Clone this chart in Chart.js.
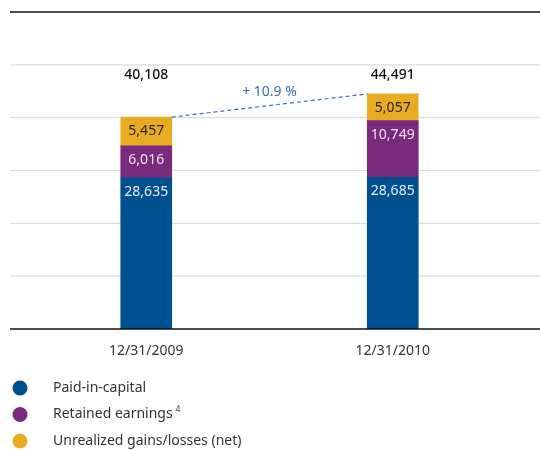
<!DOCTYPE html>
<html>
<head>
<meta charset="utf-8">
<script src="https://cdn.jsdelivr.net/npm/chart.js@4.4.1/dist/chart.umd.min.js"></script>
<style>
  html, body { margin: 0; padding: 0; background: #fff; }
  #wrap { width: 540px; height: 450px; }
</style>
</head>
<body>
<div id="wrap"><canvas id="chart"></canvas></div>
<script>
// equity components, in EUR m
const years = ['12/31/2009', '12/31/2010'];
const paidInCapital = [28635, 28685];
const retainedEarnings = [6016, 10749];
const unrealizedGains = [5457, 5057];
const totals = [40108, 44491];
const seriesNames = ['Paid-in-capital', 'Retained earnings', 'Unrealized gains/losses (net)'];
const seriesFootnotes = ['', '4', ''];
const yMax = 60000;
const yStep = 10000;

const FONT = '"Noto Sans", "Open Sans", sans-serif';
const colors = ['#00508f', '#792a7d', '#e9ab22'];
const labelColors = ['#e6ebf3', '#efe3ef', '#262626'];

const growth = ((totals[1] / totals[0] - 1) * 100).toFixed(1);
const growthLabel = '+ ' + growth + ' %';

function fmt(v) {
  return v.toLocaleString('en-US');
}

// horizontal rules run the full width, not just the chart area
const rulesPlugin = {
  id: 'rules',
  beforeDatasetsDraw(chart) {
    const { ctx } = chart;
    const y = chart.scales.y;
    ctx.save();
    ctx.strokeStyle = '#dddddd';
    ctx.lineWidth = 1.2;
    for (let v = yStep; v < yMax; v += yStep) {
      const py = y.getPixelForValue(v);
      ctx.beginPath();
      ctx.moveTo(10, py);
      ctx.lineTo(chart.width, py);
      ctx.stroke();
    }
    ctx.restore();
  },
  afterDatasetsDraw(chart) {
    const { ctx } = chart;
    const y = chart.scales.y;
    ctx.save();
    ctx.strokeStyle = '#111';
    ctx.lineWidth = 1.6;
    [0, yMax].forEach(v => {
      const py = y.getPixelForValue(v);
      ctx.beginPath();
      ctx.moveTo(10, py);
      ctx.lineTo(chart.width, py);
      ctx.stroke();
    });
    ctx.restore();
  }
};

const labelsPlugin = {
  id: 'stackLabels',
  afterDatasetsDraw(chart) {
    const { ctx } = chart;
    const y = chart.scales.y;
    ctx.save();
    ctx.textAlign = 'center';
    ctx.textBaseline = 'middle';

    // segment values, near the top of each segment
    ctx.font = '14px ' + FONT;
    chart.data.datasets.forEach((ds, di) => {
      const meta = chart.getDatasetMeta(di);
      meta.data.forEach((bar, i) => {
        ctx.fillStyle = labelColors[di];
        ctx.fillText(fmt(ds.data[i]), bar.x, bar.y + 14);
      });
    });

    // totals on a common line above the stacks
    const bars = chart.getDatasetMeta(0).data;
    const totalY = y.getPixelForValue(Math.max(...totals)) - 19;
    ctx.font = '500 14px ' + FONT;
    ctx.fillStyle = '#111';
    totals.forEach((t, i) => ctx.fillText(fmt(t), bars[i].x, totalY));

    // dashed growth connector
    const x0 = bars[0].x + bars[0].width / 2;
    const y0 = y.getPixelForValue(totals[0]);
    const x1 = bars[1].x - bars[1].width / 2;
    const y1 = y.getPixelForValue(totals[1]);
    ctx.strokeStyle = '#3f72b3';
    ctx.lineWidth = 1.2;
    ctx.setLineDash([4, 3]);
    ctx.beginPath();
    ctx.moveTo(x0, y0);
    ctx.lineTo(x1, y1);
    ctx.stroke();
    ctx.setLineDash([]);
    ctx.font = '14px ' + FONT;
    ctx.fillStyle = '#3a6db0';
    ctx.fillText(growthLabel, (x0 + x1) / 2, (y0 + y1) / 2 - 14);
    ctx.restore();
  }
};

const legendPlugin = {
  id: 'sideLegend',
  afterDraw(chart) {
    const { ctx } = chart;
    ctx.save();
    ctx.textBaseline = 'middle';
    ctx.textAlign = 'left';
    chart.data.datasets.forEach((ds, i) => {
      const cy = 388 + i * 26.5;
      ctx.fillStyle = ds.backgroundColor;
      ctx.beginPath();
      ctx.arc(20, cy, 7.5, 0, Math.PI * 2);
      ctx.fill();
      ctx.fillStyle = '#333';
      ctx.font = '14px ' + FONT;
      ctx.fillText(seriesNames[i], 53, cy);
      if (seriesFootnotes[i]) {
        const w = ctx.measureText(seriesNames[i]).width;
        ctx.font = '8px ' + FONT;
        ctx.fillText(seriesFootnotes[i], 53 + w + 3, cy - 5);
      }
    });
    ctx.restore();
  }
};

new Chart(document.getElementById('chart'), {
  type: 'bar',
  data: {
    labels: years,
    datasets: [
      { label: seriesNames[0], data: paidInCapital, backgroundColor: colors[0] },
      { label: seriesNames[1], data: retainedEarnings, backgroundColor: colors[1] },
      { label: seriesNames[2], data: unrealizedGains, backgroundColor: colors[2] }
    ]
  },
  options: {
    responsive: true,
    maintainAspectRatio: false,
    animation: false,
    layout: { padding: { left: 23, right: 24, top: 12, bottom: 0 } },
    barThickness: 51,
    plugins: {
      legend: { display: false },
      tooltip: { enabled: false }
    },
    scales: {
      x: {
        stacked: true,
        grid: { display: false },
        border: { display: false },
        ticks: { color: '#333', font: { family: FONT, size: 14 }, padding: 6 },
        afterFit(scale) { scale.height = 121; }
      },
      y: {
        stacked: true,
        display: false,
        min: 0,
        max: yMax,
        ticks: { stepSize: yStep }
      }
    }
  },
  plugins: [rulesPlugin, labelsPlugin, legendPlugin]
});
</script>
</body>
</html>
